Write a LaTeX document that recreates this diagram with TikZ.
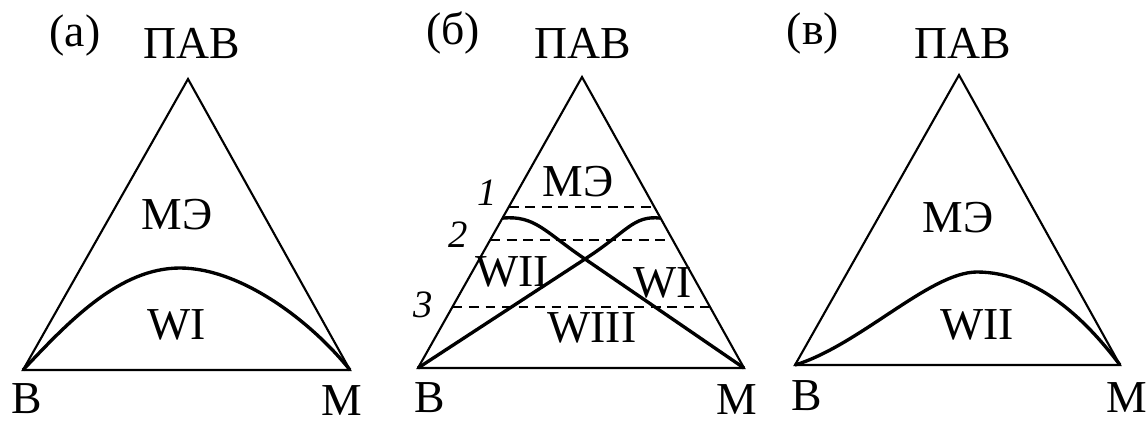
\documentclass[tikz,border=0pt]{standalone}
\usepackage{fontspec}
\setmainfont{Liberation Serif}
\usetikzlibrary{calc}

\begin{document}
\begin{tikzpicture}[x=.01cm,y=-.01cm,
  side/.style={draw=black,line width=.6pt,line join=miter},
  bound/.style={draw=black,line width=.95pt},
  cut/.style={draw=black,line width=.45pt,dash pattern=on 2.8pt off 1.9pt},
  vertex/.style={text=black,font=\fontsize{13}{15}\selectfont,inner sep=1pt},
  phase/.style={text=black,font=\fontsize{13}{15}\selectfont},
  tag/.style={text=black,font=\fontsize{11}{13}\selectfont\itshape}
]
\useasboundingbox (0,0) rectangle (1148,423);
% (а)
\coordinate (aT) at (188,79);
\coordinate (aB) at (23,370);
\coordinate (aM) at (350,370);
\draw[side] (aT) -- (aB) -- (aM) -- cycle;
\draw[bound] (aB) .. controls (70,320) and (120,268) .. (180,268)
  .. controls (240,268) and (310,320) .. (aM);
\node[vertex] (aCap) at (75,35) {(а)};
\node[vertex] (aTop) at (192,43) {ПАВ};
\node[vertex] (aLeft) at (27,399) {В};
\node[vertex] (aRight) at (342,401) {М};
\node[phase] (aMe) at (177,215) {МЭ};
\node[phase] (aW) at (177,325) {WI};
% (б)
\coordinate (bT) at (582,77);
\coordinate (bB) at (418,368);
\coordinate (bM) at (744,368);
\coordinate (bX) at (585,259);
\draw[side] (bT) -- (bB) -- (bM) -- cycle;
\draw[cut] ($(bB)!.553!(bT)$) -- ($(bM)!.553!(bT)$);
\draw[cut] ($(bB)!.44!(bT)$) -- ($(bM)!.44!(bT)$);
\draw[cut] ($(bB)!.21!(bT)$) -- ($(bM)!.21!(bT)$);
\draw[bound] ($(bB)!.515!(bT)$) .. controls (535,215) and (545,232) .. (bX) -- (bM);
\draw[bound] (bB) -- (bX) .. controls (627,232) and (633,215) .. ($(bM)!.515!(bT)$);
\node[vertex] (bCap) at (453,33) {(б)};
\node[vertex] (bTop) at (583,43) {ПАВ};
\node[vertex] (bLeft) at (430,398) {В};
\node[vertex] (bRight) at (737,400) {М};
\node[phase] (bMe) at (578,182) {МЭ};
\node[phase] (bW2) at (512,272) {WII};
\node[phase] (bW1) at (663,283) {WI};
\node[phase] (bW3) at (592,328) {WIII};
\node[tag] (bOne) at (487,193) {1};
\node[tag] (bTwo) at (458,235) {2};
\node[tag] (bThree) at (423,305) {3};
% (в)
\coordinate (cT) at (959,75);
\coordinate (cB) at (795,365);
\coordinate (cM) at (1120,365);
\draw[side] (cT) -- (cB) -- (cM) -- cycle;
\draw[bound] (cB) .. controls (860,345) and (930,272) .. (977,272)
  .. controls (1040,272) and (1090,325) .. (cM);
\node[vertex] (cCap) at (813,33) {(в)};
\node[vertex] (cTop) at (963,43) {ПАВ};
\node[vertex] (cLeft) at (807,396) {В};
\node[vertex] (cRight) at (1127,398) {М};
\node[phase] (cMe) at (958,218) {МЭ};
\node[phase] (cW) at (977,325) {WII};
\end{tikzpicture}
\end{document}
